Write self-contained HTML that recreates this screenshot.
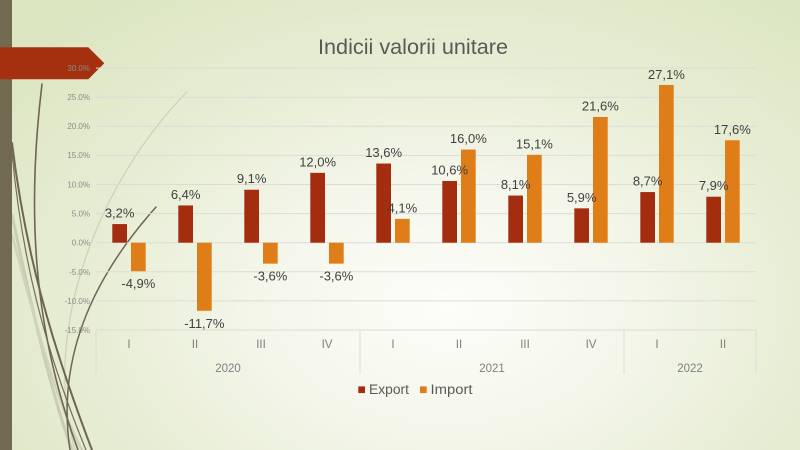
<!DOCTYPE html>
<html><head><meta charset="utf-8"><style>
html,body{margin:0;padding:0;width:800px;height:450px;overflow:hidden}
body{background:radial-gradient(ellipse 70% 85% at 56% 68%, #fdfdf9 0%, #f5f7ec 30%, #e7edd4 65%, #dce6c1 100%)}
svg{display:block}
text{font-family:"Liberation Sans",sans-serif}
</style></head><body>
<svg width="800" height="450" viewBox="0 0 800 450" xmlns="http://www.w3.org/2000/svg">
<!-- decorative curves -->
<g fill="none" stroke-linecap="round">
<path d="M187,92 C100,180 40,330 75,450" stroke="#cdcfb6" stroke-width="1.2"/>
<path d="M12,215 C30,300 50,390 72,450" stroke="#c9ceb1" stroke-width="3"/>
<path d="M12,235 C35,320 55,400 82,450" stroke="#cfd3b8" stroke-width="2.5"/>
<path d="M12,143 C25,250 50,340 92,450" stroke="#6f6550" stroke-width="2"/>
<path d="M12,153 C22,260 45,350 86,450" stroke="#776d57" stroke-width="1.2"/>
<path d="M42,84 C28,200 30,320 78,450" stroke="#6f6550" stroke-width="1.6"/>
<path d="M156,207 C100,270 55,350 70,450" stroke="#6f6550" stroke-width="1.5"/>
</g>
<rect x="0" y="0" width="12" height="450" fill="#726a50"/>
<polygon points="0,47.3 88.3,47.3 104.3,63.3 88.3,79.3 0,79.3" fill="#a5300f"/>

<!-- title -->
<text x="413" y="54" font-size="21" fill="#595959" text-anchor="middle" textLength="190" lengthAdjust="spacingAndGlyphs">Indicii valorii unitare</text>

<!-- gridlines -->
<g stroke="#dcdcd6" stroke-width="1">
<line x1="96" y1="68.1" x2="756" y2="68.1"/>
<line x1="96" y1="97.2" x2="756" y2="97.2"/>
<line x1="96" y1="126.3" x2="756" y2="126.3"/>
<line x1="96" y1="155.4" x2="756" y2="155.4"/>
<line x1="96" y1="184.5" x2="756" y2="184.5"/>
<line x1="96" y1="213.6" x2="756" y2="213.6"/>
<line x1="96" y1="242.7" x2="756" y2="242.7"/>
<line x1="96" y1="271.8" x2="756" y2="271.8"/>
<line x1="96" y1="300.9" x2="756" y2="300.9"/>
<line x1="96" y1="330" x2="756" y2="330"/>
<line x1="96" y1="330" x2="96" y2="374"/>
<line x1="360" y1="330" x2="360" y2="374"/>
<line x1="624" y1="330" x2="624" y2="374"/>
<line x1="756" y1="330" x2="756" y2="374"/>
</g>

<!-- y axis labels -->
<g font-size="8" fill="#8a8a8a" text-anchor="end">
<text x="90" y="71">30.0%</text>
<text x="90" y="100">25.0%</text>
<text x="90" y="129">20.0%</text>
<text x="90" y="158">15.0%</text>
<text x="90" y="187.5">10.0%</text>
<text x="90" y="216.5">5.0%</text>
<text x="90" y="245.5">0.0%</text>
<text x="90" y="275">-5.0%</text>
<text x="90" y="304">-10.0%</text>
<text x="90" y="333">-15.0%</text>
</g>

<!-- bars export -->
<g fill="#a52d0f">
<rect x="112.3" y="224.08" width="14.7" height="18.62"/>
<rect x="178.3" y="205.45" width="14.7" height="37.25"/>
<rect x="244.3" y="189.74" width="14.7" height="52.96"/>
<rect x="310.3" y="172.86" width="14.7" height="69.84"/>
<rect x="376.3" y="163.55" width="14.7" height="79.15"/>
<rect x="442.3" y="181.01" width="14.7" height="61.69"/>
<rect x="508.3" y="195.56" width="14.7" height="47.14"/>
<rect x="574.3" y="208.36" width="14.7" height="34.34"/>
<rect x="640.3" y="192.07" width="14.7" height="50.63"/>
<rect x="706.3" y="196.72" width="14.7" height="45.98"/>
</g>
<!-- bars import -->
<g fill="#df7e18">
<rect x="131" y="242.7" width="14.7" height="28.52"/>
<rect x="197" y="242.7" width="14.7" height="68.09"/>
<rect x="263" y="242.7" width="14.7" height="20.95"/>
<rect x="329" y="242.7" width="14.7" height="20.95"/>
<rect x="395" y="218.84" width="14.7" height="23.86"/>
<rect x="461" y="149.58" width="14.7" height="93.12"/>
<rect x="527" y="154.82" width="14.7" height="87.88"/>
<rect x="593" y="116.99" width="14.7" height="125.71"/>
<rect x="659" y="84.98" width="14.7" height="157.72"/>
<rect x="725" y="140.27" width="14.7" height="102.43"/>
</g>

<!-- data labels -->
<g font-size="13" fill="#404040" text-anchor="middle">
<text x="119.65" y="217.6">3,2%</text>
<text x="185.65" y="199">6,4%</text>
<text x="251.65" y="183.2">9,1%</text>
<text x="317.65" y="166.4">12,0%</text>
<text x="383.65" y="157">13,6%</text>
<text x="449.65" y="174.5">10,6%</text>
<text x="515.65" y="189">8,1%</text>
<text x="581.65" y="201.9">5,9%</text>
<text x="647.65" y="185.6">8,7%</text>
<text x="713.65" y="190.2">7,9%</text>

<text x="138.35" y="288.2">-4,9%</text>
<text x="204.35" y="327.8">-11,7%</text>
<text x="270.35" y="280.7">-3,6%</text>
<text x="336.35" y="280.7">-3,6%</text>
<text x="402.35" y="212.3">4,1%</text>
<text x="468.35" y="143.1">16,0%</text>
<text x="534.35" y="148.3">15,1%</text>
<text x="600.35" y="110.5">21,6%</text>
<text x="666.35" y="79">27,1%</text>
<text x="732.35" y="133.8">17,6%</text>
</g>

<!-- category labels -->
<g font-size="11.5" fill="#7f7f7f" text-anchor="middle">
<text x="129" y="348">I</text>
<text x="195" y="348">II</text>
<text x="261" y="348">III</text>
<text x="327" y="348">IV</text>
<text x="393" y="348">I</text>
<text x="459" y="348">II</text>
<text x="525" y="348">III</text>
<text x="591" y="348">IV</text>
<text x="657" y="348">I</text>
<text x="723" y="348">II</text>
<text x="228" y="372">2020</text>
<text x="492" y="372">2021</text>
<text x="690" y="372">2022</text>
</g>

<!-- legend -->
<rect x="358.3" y="386.4" width="6.7" height="6.7" fill="#a52d0f"/>
<text x="369" y="394" font-size="13.5" fill="#595959" textLength="40" lengthAdjust="spacingAndGlyphs">Export</text>
<rect x="420" y="386.4" width="6.7" height="6.7" fill="#df7e18"/>
<text x="430.5" y="394" font-size="13.5" fill="#595959" textLength="42" lengthAdjust="spacingAndGlyphs">Import</text>
</svg>
</body></html>
